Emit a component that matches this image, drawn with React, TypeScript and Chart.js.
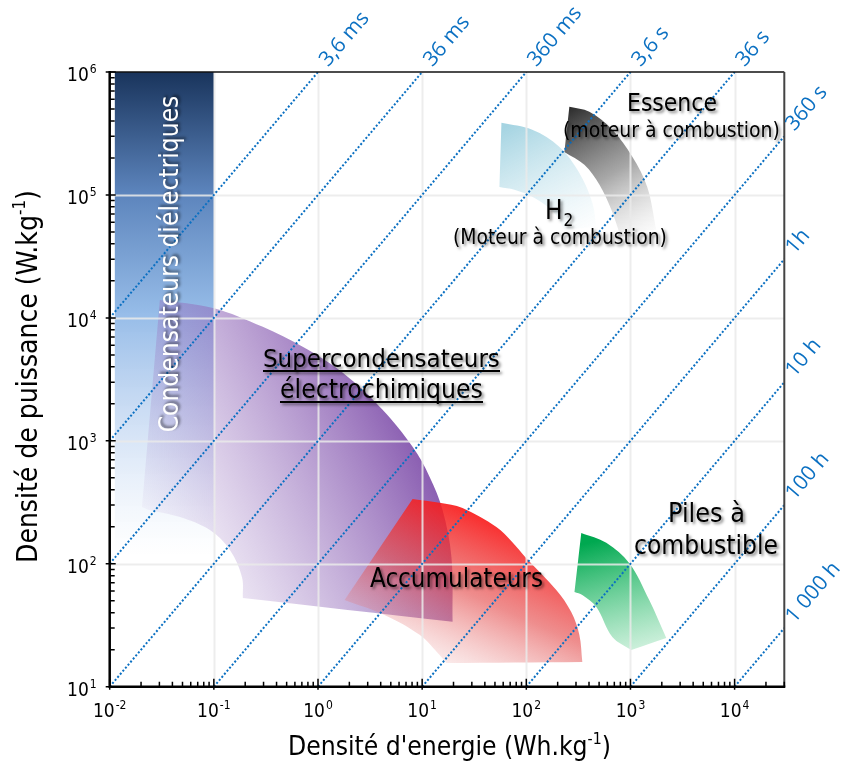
import React, { useEffect, useRef } from "react";
import { Chart, registerables } from "chart.js";

Chart.register(...registerables);

// ---------- axes ----------
const X_MIN = 0.01;
const X_MAX = 30000;
const Y_MIN = 10;
const Y_MAX = 1000000;

const xDecades = [0.01, 0.1, 1, 10, 100, 1000, 10000];
const xDecadeExponents = ["-2", "-1", "0", "1", "2", "3", "4"];
const yDecades = [10, 100, 1000, 10000, 100000, 1000000];
const yDecadeExponents = ["1", "2", "3", "4", "5", "6"];

// ---------- regions (energy Wh/kg, power W/kg); corner points are listed twice ----------
const capacitorEnergy = [0.0112, 0.1, 0.1, 0.0112];
const capacitorPower = [1000000, 1000000, 120, 120];

const superCapEnergy = [0.0303, 0.098, 0.295, 0.713, 1.73, 4.17, 8.09, 11.8, 15.7, 19.1, 19.6, 19.6, 0.19, 0.19, 0.186, 0.143, 0.0917, 0.0472, 0.0243, 0.0204];
const superCapPower = [14000, 12050, 8450, 5810, 3570, 1786, 893, 509, 274, 114, 33.7, 33.7, 52.7, 52.7, 78.2, 129, 188, 240, 274, 290];

const accuEnergy = [8.09, 14.7, 24.4, 51.6, 72.4, 100, 194, 270, 323, 345, 345, 17.1, 17.1, 14.7, 9.44, 4.35, 1.8];
const accuPower = [336, 313, 284, 199, 152, 111, 61.2, 40.5, 26.4, 15.9, 15.9, 15.6, 15.6, 18.1, 26.4, 38.3, 50.7];

const fuelCellEnergy = [337, 586, 975, 1514, 2208, 2208, 1019, 1019, 670, 471, 345, 290];
const fuelCellPower = [178, 148, 101, 50.7, 24.9, 24.9, 19.9, 19.9, 25.4, 44.5, 55.7, 59];

const h2Energy = [57.7, 114, 207, 323, 431, 470, 470, 232, 232, 186, 120, 76.9, 55.2];
const h2Power = [386000, 339000, 247000, 151000, 86100, 55000, 55000, 52000, 52000, 71300, 94400, 110000, 116000];

const petrolEnergy = [259, 403, 670, 1042, 1449, 1770, 1770, 782, 782, 656, 504, 361, 232];
const petrolPower = [521000, 474000, 339000, 204000, 116000, 52000, 52000, 49200, 49200, 75700, 121000, 176000, 224000];

// ---------- iso-time lines ----------
const isoLabels = ["3,6 ms", "36 ms", "360 ms", "3,6 s", "36 s", "360 s", "1h", "10 h", "100 h", "1 000 h"];
const isoStartEnergy = [0.01, 0.01, 0.01, 0.01, 0.1, 1, 10, 100, 1000, 10000];
const isoStartPower = [10000, 1000, 100, 10, 10, 10, 10, 10, 10, 10];
const isoEndEnergy = [1, 10, 100, 1000, 10000, 30000, 30000, 30000, 30000, 30000];
const isoEndPower = [1000000, 1000000, 1000000, 1000000, 1000000, 300000, 30000, 3000, 300, 30];

const TEXT_FONT = '"DejaVu Sans Condensed", "DejaVu Sans", sans-serif';
const BLUE_FONT = '"Open Sans", "Noto Sans", sans-serif';
const BLUE = "#0b70c2";

type Grad = { from: [number, number]; to: [number, number]; stops: [number, string][] };

const shapes: { e: number[]; p: number[]; tension: number; grad: Grad }[] = [
  {
    e: capacitorEnergy,
    p: capacitorPower,
    tension: 0,
    grad: {
      from: [0.05, 1000000],
      to: [0.05, 120],
      stops: [
        [0, "rgba(25,52,92,1)"],
        [0.25, "rgba(92,132,188,1)"],
        [0.5, "rgba(150,188,232,1)"],
        [0.75, "rgba(172,200,237,0.5)"],
        [1, "rgba(200,220,245,0)"],
      ],
    },
  },
  {
    e: superCapEnergy,
    p: superCapPower,
    tension: 0.35,
    grad: {
      from: [14.7, 843],
      to: [0.0305, 61],
      stops: [
        [0, "rgba(128,80,170,1)"],
        [1, "rgba(170,140,205,0)"],
      ],
    },
  },
  {
    e: accuEnergy,
    p: accuPower,
    tension: 0.35,
    grad: {
      from: [55.3, 330],
      to: [9.44, 11.3],
      stops: [
        [0, "rgba(255,12,12,1)"],
        [0.5, "rgba(228,72,72,0.62)"],
        [1, "rgba(230,150,150,0)"],
      ],
    },
  },
  {
    e: fuelCellEnergy,
    p: fuelCellPower,
    tension: 0.35,
    grad: {
      from: [504, 156],
      to: [1216, 9.4],
      stops: [
        [0, "rgba(0,168,80,1)"],
        [1, "rgba(80,205,130,0)"],
      ],
    },
  },
  {
    e: h2Energy,
    p: h2Power,
    tension: 0.35,
    grad: {
      from: [85.9, 408000],
      to: [323, 43000],
      stops: [
        [0, "rgba(165,212,226,1)"],
        [1, "rgba(205,232,240,0)"],
      ],
    },
  },
  {
    e: petrolEnergy,
    p: petrolPower,
    tension: 0.35,
    grad: {
      from: [323, 594000],
      to: [1888, 43000],
      stops: [
        [0, "rgba(40,40,40,1)"],
        [0.5, "rgba(120,120,120,0.65)"],
        [1, "rgba(210,210,210,0)"],
      ],
    },
  },
];

function shadowOn(ctx: CanvasRenderingContext2D) {
  ctx.shadowColor = "rgba(0,0,0,0.5)";
  ctx.shadowBlur = 3;
  ctx.shadowOffsetX = 2;
  ctx.shadowOffsetY = 2;
}

function fitSize(ctx: CanvasRenderingContext2D, text: string, width: number, family: string) {
  ctx.font = `100px ${family}`;
  const w = ctx.measureText(text).width;
  return (100 * width) / w;
}

function fitText(ctx: CanvasRenderingContext2D, text: string, left: number, right: number, baseline: number, color: string, underline = false) {
  const size = fitSize(ctx, text, right - left, TEXT_FONT);
  ctx.save();
  ctx.font = `${size}px ${TEXT_FONT}`;
  ctx.fillStyle = color;
  ctx.textAlign = "left";
  ctx.textBaseline = "alphabetic";
  shadowOn(ctx);
  ctx.fillText(text, left, baseline);
  if (underline) {
    ctx.fillRect(left, baseline + 3, right - left, 2);
  }
  ctx.restore();
}

// text + superscript + tail, fitted to a width, centred on 0 in current transform
function drawSupTitle(ctx: CanvasRenderingContext2D, main: string, sup: string, tail: string, width: number) {
  const measure = (s: number) => {
    ctx.font = `${s}px ${TEXT_FONT}`;
    const w1 = ctx.measureText(main).width;
    const w3 = ctx.measureText(tail).width;
    ctx.font = `${s * 0.6}px ${TEXT_FONT}`;
    const w2 = ctx.measureText(sup).width;
    return [w1, w2, w3];
  };
  const m = measure(100);
  const size = (100 * width) / (m[0] + m[1] + m[2]);
  const [w1, w2] = measure(size);
  const x0 = -width / 2;
  ctx.textAlign = "left";
  ctx.textBaseline = "alphabetic";
  ctx.font = `${size}px ${TEXT_FONT}`;
  ctx.fillText(main, x0, 0);
  ctx.fillText(tail, x0 + w1 + w2, 0);
  ctx.font = `${size * 0.6}px ${TEXT_FONT}`;
  ctx.fillText(sup, x0 + w1, -size * 0.42);
}

function drawPow(ctx: CanvasRenderingContext2D, exp: string, x: number, baseline: number, align: "center" | "right") {
  const baseFont = `19px ${TEXT_FONT}`;
  const supFont = `12px ${TEXT_FONT}`;
  ctx.font = baseFont;
  const wb = ctx.measureText("10").width;
  ctx.font = supFont;
  const ws = ctx.measureText(exp).width;
  const total = wb + ws + 1;
  const start = align === "center" ? x - total / 2 : x - total;
  ctx.textAlign = "left";
  ctx.textBaseline = "alphabetic";
  ctx.font = baseFont;
  ctx.fillText("10", start, baseline);
  ctx.font = supFont;
  ctx.fillText(exp, start + wb + 1, baseline - 8);
}

const overlayPlugin = {
  id: "ragoneOverlay",
  afterDatasetDraw(chart: any, args: any) {
    if (args.index !== shapes.length - 1) return;
    const { ctx, chartArea: a, scales } = chart;
    const xs = scales.x;
    const ys = scales.y;
    ctx.save();
    ctx.strokeStyle = "rgba(234,234,234,0.85)";
    ctx.lineWidth = 2;
    ctx.beginPath();
    for (const v of xDecades.slice(1)) {
      const px = Math.round(xs.getPixelForValue(v)) + 0.5;
      ctx.moveTo(px, a.top);
      ctx.lineTo(px, a.bottom);
    }
    for (const v of yDecades.slice(1, -1)) {
      const py = Math.round(ys.getPixelForValue(v)) + 0.5;
      ctx.moveTo(a.left, py);
      ctx.lineTo(a.right, py);
    }
    ctx.stroke();
    ctx.restore();
  },
  afterDraw(chart: any) {
    const { ctx, chartArea: a, scales } = chart;
    const xs = scales.x;
    const ys = scales.y;
    ctx.save();

    // frame
    ctx.lineCap = "butt";
    ctx.strokeStyle = "#111";
    ctx.lineWidth = 1.5;
    ctx.beginPath();
    ctx.moveTo(a.left, a.top);
    ctx.lineTo(a.right, a.top);
    ctx.stroke();
    ctx.strokeStyle = "#444";
    ctx.lineWidth = 2;
    ctx.beginPath();
    ctx.moveTo(a.right, a.top);
    ctx.lineTo(a.right, a.bottom);
    ctx.stroke();
    ctx.strokeStyle = "#000";
    ctx.lineWidth = 2.5;
    ctx.beginPath();
    ctx.moveTo(a.left, a.top - 1);
    ctx.lineTo(a.left, a.bottom);
    ctx.lineTo(a.right + 1, a.bottom);
    ctx.stroke();

    // ticks
    ctx.lineWidth = 1.5;
    ctx.beginPath();
    for (const d of xDecades) {
      const px = xs.getPixelForValue(d);
      ctx.moveTo(px, a.bottom + 3);
      ctx.lineTo(px, a.bottom - 8);
      for (let k = 2; k <= 9; k++) {
        const v = d * k;
        if (v > X_MAX) break;
        const mx = xs.getPixelForValue(v);
        ctx.moveTo(mx, a.bottom);
        ctx.lineTo(mx, a.bottom - 5);
      }
    }
    for (const d of yDecades) {
      const py = ys.getPixelForValue(d);
      ctx.moveTo(a.left - 4, py);
      ctx.lineTo(a.left + 6, py);
      for (let k = 2; k <= 9; k++) {
        const v = d * k;
        if (v > Y_MAX) break;
        const my = ys.getPixelForValue(v);
        ctx.moveTo(a.left, my);
        ctx.lineTo(a.left + 5, my);
      }
    }
    ctx.stroke();

    // tick labels
    ctx.fillStyle = "#000";
    xDecades.forEach((d, i) => drawPow(ctx, xDecadeExponents[i], xs.getPixelForValue(d), a.bottom + 30, "center"));
    yDecades.forEach((d, i) => drawPow(ctx, yDecadeExponents[i], a.left - 13, ys.getPixelForValue(d) + 9, "right"));

    // axis titles
    ctx.save();
    ctx.translate(449.5, 755);
    drawSupTitle(ctx, "Densité d'energie (Wh.kg", "-1", ")", 323);
    ctx.restore();
    ctx.save();
    ctx.translate(37, 376.5);
    ctx.rotate(-Math.PI / 2);
    drawSupTitle(ctx, "Densité de puissance (W.kg", "-1", ")", 373);
    ctx.restore();

    // iso-line labels
    ctx.fillStyle = BLUE;
    ctx.font = `21px ${BLUE_FONT}`;
    ctx.textAlign = "left";
    ctx.textBaseline = "middle";
    isoLabels.forEach((label, i) => {
      const x1 = xs.getPixelForValue(isoStartEnergy[i]);
      const y1 = ys.getPixelForValue(isoStartPower[i]);
      const x2 = xs.getPixelForValue(isoEndEnergy[i]);
      const y2 = ys.getPixelForValue(isoEndPower[i]);
      const len = Math.hypot(x2 - x1, y2 - y1);
      const ux = (x2 - x1) / len;
      const uy = (y2 - y1) / len;
      ctx.save();
      ctx.translate(x2 + ux * 10 + uy * 1, y2 + uy * 10 - ux * 1);
      ctx.rotate(Math.atan2(uy, ux));
      ctx.fillText(label, 0, 0);
      ctx.restore();
    });

    // region labels
    ctx.textBaseline = "alphabetic";
    {
      const text = "Condensateurs diélectriques";
      const size = fitSize(ctx, text, 337, TEXT_FONT);
      ctx.save();
      ctx.translate(178, 264);
      ctx.rotate(-Math.PI / 2);
      ctx.font = `${size}px ${TEXT_FONT}`;
      ctx.textAlign = "center";
      ctx.fillStyle = "#fff";
      ctx.shadowColor = "rgba(0,0,0,0.55)";
      ctx.shadowBlur = 3;
      ctx.shadowOffsetX = 2;
      ctx.shadowOffsetY = -2;
      ctx.fillText(text, 0, 0);
      ctx.restore();
    }
    fitText(ctx, "Supercondensateurs", 263, 500, 367, "#000", true);
    fitText(ctx, "électrochimiques", 280, 483, 398, "#000", true);
    fitText(ctx, "Accumulateurs", 370, 543, 587, "#000");
    fitText(ctx, "Piles à", 668, 745, 522, "#000");
    fitText(ctx, "combustible", 634, 778, 554, "#000");
    fitText(ctx, "Essence", 627, 717, 111, "#000");
    fitText(ctx, "(moteur à combustion)", 563, 780, 137, "#000");
    fitText(ctx, "(Moteur à combustion)", 453, 667, 244, "#000");
    {
      ctx.save();
      shadowOn(ctx);
      ctx.fillStyle = "#000";
      ctx.textAlign = "left";
      ctx.font = `26px ${TEXT_FONT}`;
      ctx.fillText("H", 545, 219);
      const wh = ctx.measureText("H").width;
      ctx.font = `17px ${TEXT_FONT}`;
      ctx.fillText("2", 545 + wh + 1, 226);
      ctx.restore();
    }

    ctx.restore();
  },
};

export default function App() {
  const ref = useRef<HTMLCanvasElement>(null);
  useEffect(() => {
    const canvas = ref.current;
    if (!canvas) return;

    const shapeDatasets = shapes.map((s, i) => ({
      label: "region" + i,
      data: s.e.map((e, j) => ({ x: e, y: s.p[j] })),
      showLine: true,
      fill: "shape",
      borderWidth: 0,
      borderColor: "rgba(0,0,0,0)",
      pointRadius: 0,
      tension: s.tension,
      order: 100 - i,
      backgroundColor: (c: any) => {
        const chart = c.chart;
        if (!chart.chartArea) return "rgba(0,0,0,0)";
        const xs = chart.scales.x;
        const ys = chart.scales.y;
        const g = chart.ctx.createLinearGradient(
          xs.getPixelForValue(s.grad.from[0]),
          ys.getPixelForValue(s.grad.from[1]),
          xs.getPixelForValue(s.grad.to[0]),
          ys.getPixelForValue(s.grad.to[1])
        );
        s.grad.stops.forEach(([o, col]) => g.addColorStop(o, col));
        return g;
      },
    }));

    const isoDatasets = isoLabels.map((lab, i) => ({
      label: lab,
      data: [
        { x: isoStartEnergy[i], y: isoStartPower[i] },
        { x: isoEndEnergy[i], y: isoEndPower[i] },
      ],
      showLine: true,
      fill: false,
      borderColor: BLUE,
      borderWidth: 2,
      borderDash: [2, 2],
      pointRadius: 0,
      order: 0,
    }));

    const chart = new Chart(canvas, {
      type: "scatter",
      data: { datasets: [...shapeDatasets, ...isoDatasets] as any },
      options: {
        animation: false,
        responsive: false,
        maintainAspectRatio: false,
        layout: { padding: { left: 109.7, top: 72, right: 62.7, bottom: 78.3 } },
        plugins: { legend: { display: false }, tooltip: { enabled: false } },
        scales: {
          x: { type: "logarithmic", min: X_MIN, max: X_MAX, display: false },
          y: { type: "logarithmic", min: Y_MIN, max: Y_MAX, display: false },
        },
      },
      plugins: [overlayPlugin],
    } as any);
    return () => chart.destroy();
  }, []);

  return (
    <div style={{ position: "fixed", left: 0, top: 0, width: 847, height: 765, background: "#fff" }}>
      <canvas ref={ref} width={847} height={765} style={{ display: "block", width: 847, height: 765 }} />
    </div>
  );
}
